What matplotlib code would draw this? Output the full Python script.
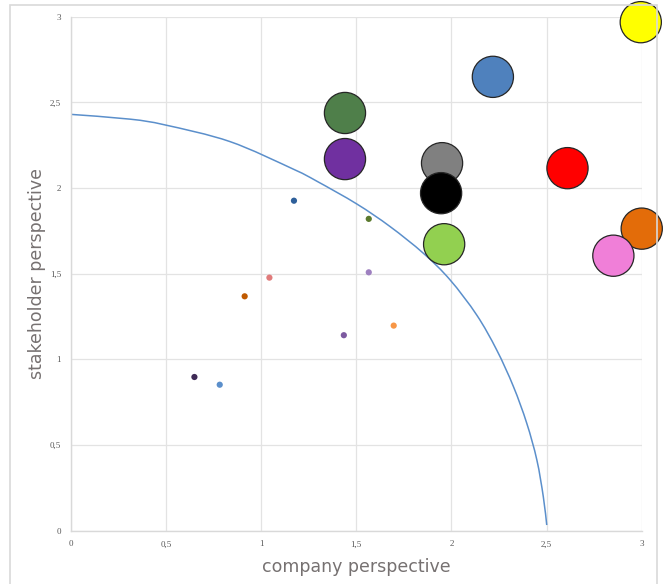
import numpy as np
import matplotlib.pyplot as plt
from matplotlib.patches import Rectangle, PathPatch
from matplotlib.path import Path

# small markers (company / stakeholder scores)
small_x = [1.173, 1.566, 1.044, 1.566, 0.914, 1.435, 1.697, 0.650, 0.783]
small_y = [1.926, 1.820, 1.477, 1.508, 1.368, 1.141, 1.197, 0.897, 0.852]
small_colors = ['#2E5F9A', '#5B7A2E', '#E07B7B', '#9E80C0', '#C05A00',
                '#7D5AA0', '#F79646', '#3F2A56', '#5B8FCB']

# large bubbles (material topics)
big_x = [2.995, 2.218, 1.441, 1.441, 1.951, 1.946, 1.962, 2.610, 3.000, 2.851]
big_y = [2.968, 2.649, 2.438, 2.169, 2.145, 1.970, 1.672, 2.116, 1.763, 1.605]
big_colors = ['#FFFF00', '#4F81BD', '#4F7F4A', '#7030A0', '#808080',
              '#000000', '#92D050', '#FF0000', '#E36C09', '#F07FD8']

# materiality threshold curve
curve_x = [0.0, 0.312, 0.497, 0.837, 1.170, 1.293, 1.503, 1.678, 1.853,
           1.993, 2.133, 2.238, 2.326, 2.396, 2.449, 2.483, 2.501]
curve_y = [2.430, 2.402, 2.368, 2.271, 2.110, 2.040, 1.907, 1.775, 1.619,
           1.464, 1.259, 1.055, 0.841, 0.627, 0.413, 0.198, 0.033]

ticks = [0, 0.5, 1, 1.5, 2, 2.5, 3]
tick_labels = ['0', '0,5', '1', '1,5', '2', '2,5', '3']


def smooth_path(xs, ys):
    # smoothed line like a spreadsheet chart: Catmull-Rom as cubic Beziers
    pts = np.column_stack([xs, ys])
    n = len(pts)
    verts = [pts[0]]
    codes = [Path.MOVETO]
    for i in range(n - 1):
        p0 = pts[max(i - 1, 0)]
        p1 = pts[i]
        p2 = pts[i + 1]
        p3 = pts[min(i + 2, n - 1)]
        verts += [p1 + (p2 - p0) / 6, p2 - (p3 - p1) / 6, p2]
        codes += [Path.CURVE4] * 3
    return Path(verts, codes)


fig = plt.figure(figsize=(6.7, 5.84), dpi=100)
ax = fig.add_axes([0.1055, 0.0913, 0.8523, 0.8801])

# chart area border
fig.patches.append(Rectangle((10 / 670, -0.05), 647 / 670, 1 - 5 / 584 + 0.05,
                             transform=fig.transFigure, fill=False,
                             edgecolor='#D9D9D9', linewidth=1.2))

ax.set_xlim(0, 3)
ax.set_ylim(0, 3)
ax.set_xticks(ticks)
ax.set_yticks(ticks)
ax.set_xticklabels(tick_labels)
ax.set_yticklabels(tick_labels)
ax.grid(True, color='#E3E3E3', linewidth=0.9)
ax.set_axisbelow(True)
for side in ['top', 'right']:
    ax.spines[side].set_visible(False)
for side in ['left', 'bottom']:
    ax.spines[side].set_color('#D9D9D9')
    ax.spines[side].set_linewidth(1.0)
ax.tick_params(length=0, labelsize=6.5, labelcolor='#595959', pad=7)
for lbl in ax.get_xticklabels() + ax.get_yticklabels():
    lbl.set_family('Liberation Serif')

ax.add_patch(PathPatch(smooth_path(curve_x, curve_y), fill=False,
                       edgecolor='#5B8FCB', linewidth=1.1, zorder=2))

ax.scatter(small_x, small_y, s=20, c=small_colors, linewidths=0, zorder=3)
ax.scatter(big_x, big_y, s=880, c=big_colors, edgecolors='#262626',
           linewidths=0.9, zorder=4, clip_on=False)

ax.set_xlabel('company perspective', fontsize=12.5, color='#767171', labelpad=7)
ax.set_ylabel('stakeholder perspective', fontsize=12.5, color='#767171', labelpad=3)

fig.savefig('out.png', dpi=100)
